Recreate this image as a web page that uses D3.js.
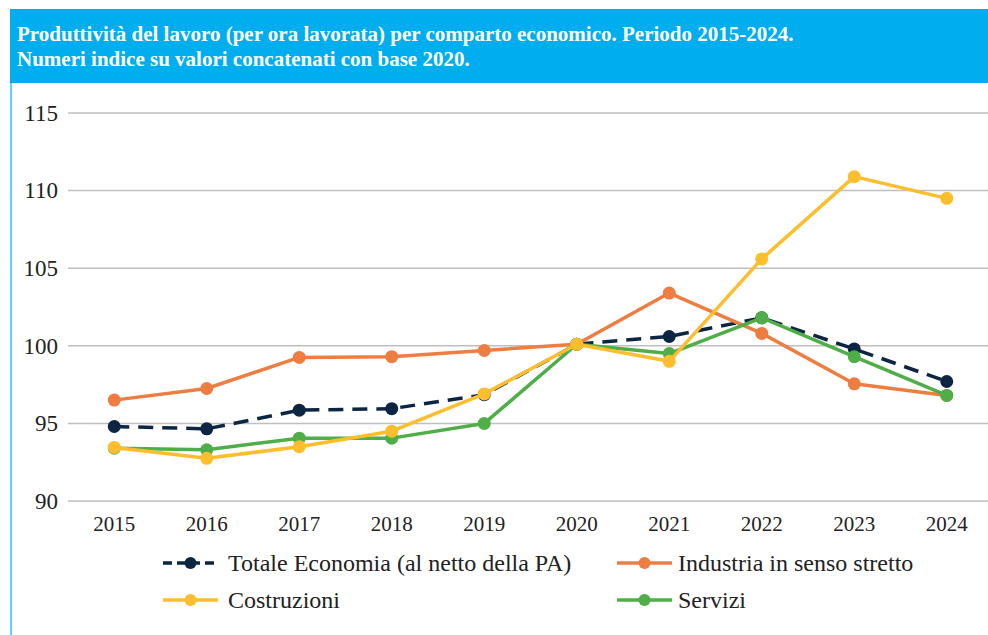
<!DOCTYPE html>
<html lang="it">
<head>
<meta charset="UTF-8">
<title>Produttività del lavoro per comparto economico</title>
<script src="https://d3js.org/d3.v7.min.js"></script>
<style>
    body { margin: 0; background: #fff; }
    svg { display: block; }
</style>
</head>
<body>
<div id="chart"></div>
<script>
    // --- Data ---
    const years = [2015, 2016, 2017, 2018, 2019, 2020, 2021, 2022, 2023, 2024];
    const totaleEconomia = [94.8, 94.65, 95.85, 95.95, 96.85, 100.1, 100.6, 101.8, 99.8, 97.7];
    const industria = [96.5, 97.25, 99.25, 99.3, 99.7, 100.1, 103.4, 100.8, 97.55, 96.8];
    const costruzioni = [93.45, 92.75, 93.5, 94.5, 96.9, 100.1, 99.0, 105.6, 110.9, 109.5];
    const servizi = [93.4, 93.3, 94.05, 94.05, 95.0, 100.1, 99.5, 101.8, 99.3, 96.8];
    const yTicks = [90, 95, 100, 105, 110, 115];
    const titleLines = [
        "Produttività del lavoro (per ora lavorata) per comparto economico. Periodo 2015-2024.",
        "Numeri indice su valori concatenati con base 2020."
    ];

    const series = [
        { name: "Totale Economia (al netto della PA)", values: totaleEconomia, color: "#0b2542", dash: "15,9" },
        { name: "Industria in senso stretto", values: industria, color: "#ed7d40", dash: null },
        { name: "Costruzioni", values: costruzioni, color: "#fcbe2c", dash: null },
        { name: "Servizi", values: servizi, color: "#4fae47", dash: null }
    ];
    // drawing order (bottom to top)
    const drawOrder = [0, 1, 3, 2];

    const width = 988, height = 635;
    const font = "'Liberation Serif', 'DejaVu Serif', serif";

    const svg = d3.select("#chart").append("svg")
        .attr("width", width)
        .attr("height", height);

    // --- Header ---
    svg.append("rect")
        .attr("x", 10).attr("y", 9)
        .attr("width", width - 10).attr("height", 74)
        .attr("fill", "#00aeef");

    svg.append("line")
        .attr("x1", 11).attr("x2", 11)
        .attr("y1", 83).attr("y2", height)
        .attr("stroke", "#5fd0ff").attr("stroke-width", 2);

    svg.selectAll(".title")
        .data(titleLines)
        .enter().append("text")
        .attr("class", "title")
        .attr("x", 17)
        .attr("y", (d, i) => 41 + i * 25)
        .attr("fill", "#fff")
        .style("font-family", font)
        .style("font-weight", "bold")
        .style("font-size", "21px")
        .text(d => d);

    // --- Scales ---
    const x = d3.scaleBand().domain(years).range([68, 993]);
    const y = d3.scaleLinear().domain([90, 115]).range([501, 113]);
    const cx = d => x(d) + x.bandwidth() / 2;

    // gridlines
    svg.selectAll(".grid")
        .data(yTicks)
        .enter().append("line")
        .attr("x1", 68).attr("x2", width)
        .attr("y1", d => y(d)).attr("y2", d => y(d))
        .attr("stroke", "#bfbfbf").attr("stroke-width", 1.5);

    // y axis
    const yAxis = svg.append("g")
        .attr("transform", "translate(58,0)")
        .call(d3.axisLeft(y).tickValues(yTicks).tickSize(0).tickPadding(0));
    yAxis.select(".domain").remove();
    yAxis.selectAll("text")
        .style("font-family", font)
        .style("font-size", "23px")
        .attr("fill", "#222");

    // x axis
    const xAxis = svg.append("g")
        .attr("transform", "translate(0,501)")
        .call(d3.axisBottom(x).tickSize(0).tickPadding(15));
    xAxis.select(".domain").remove();
    xAxis.selectAll("text")
        .style("font-family", font)
        .style("font-size", "21px")
        .attr("dy", "0.71em")
        .attr("fill", "#222");

    // --- Lines ---
    const line = d3.line()
        .x((d, i) => cx(years[i]))
        .y(d => y(d));

    drawOrder.forEach(k => {
        const s = series[k];
        const g = svg.append("g");
        g.append("path")
            .attr("d", line(s.values))
            .attr("fill", "none")
            .attr("stroke", s.color)
            .attr("stroke-width", 3.5)
            .attr("stroke-dasharray", s.dash)
            .attr("stroke-linejoin", "round");
        g.selectAll("circle")
            .data(s.values)
            .enter().append("circle")
            .attr("cx", (d, i) => cx(years[i]))
            .attr("cy", d => y(d))
            .attr("r", 6.5)
            .attr("fill", s.color);
    });

    // --- Legend ---
    const legendPos = [[163, 563], [617, 563], [163, 600], [617, 600]];
    series.forEach((s, i) => {
        const [lx, ly] = legendPos[i];
        const g = svg.append("g").attr("transform", `translate(${lx},${ly})`);
        g.append("line")
            .attr("x1", 0).attr("x2", 55)
            .attr("y1", 0).attr("y2", 0)
            .attr("stroke", s.color)
            .attr("stroke-width", 3.5)
            .attr("stroke-dasharray", s.dash ? "9,5" : null);
        g.append("circle")
            .attr("cx", 27.5).attr("cy", 0).attr("r", 6)
            .attr("fill", s.color);
        g.append("text")
            .attr("x", i % 2 === 0 ? 65 : 61)
            .attr("y", 0)
            .attr("dy", "0.35em")
            .style("font-family", font)
            .style("font-size", "24px")
            .attr("fill", "#222")
            .text(s.name);
    });
</script>
</body>
</html>
